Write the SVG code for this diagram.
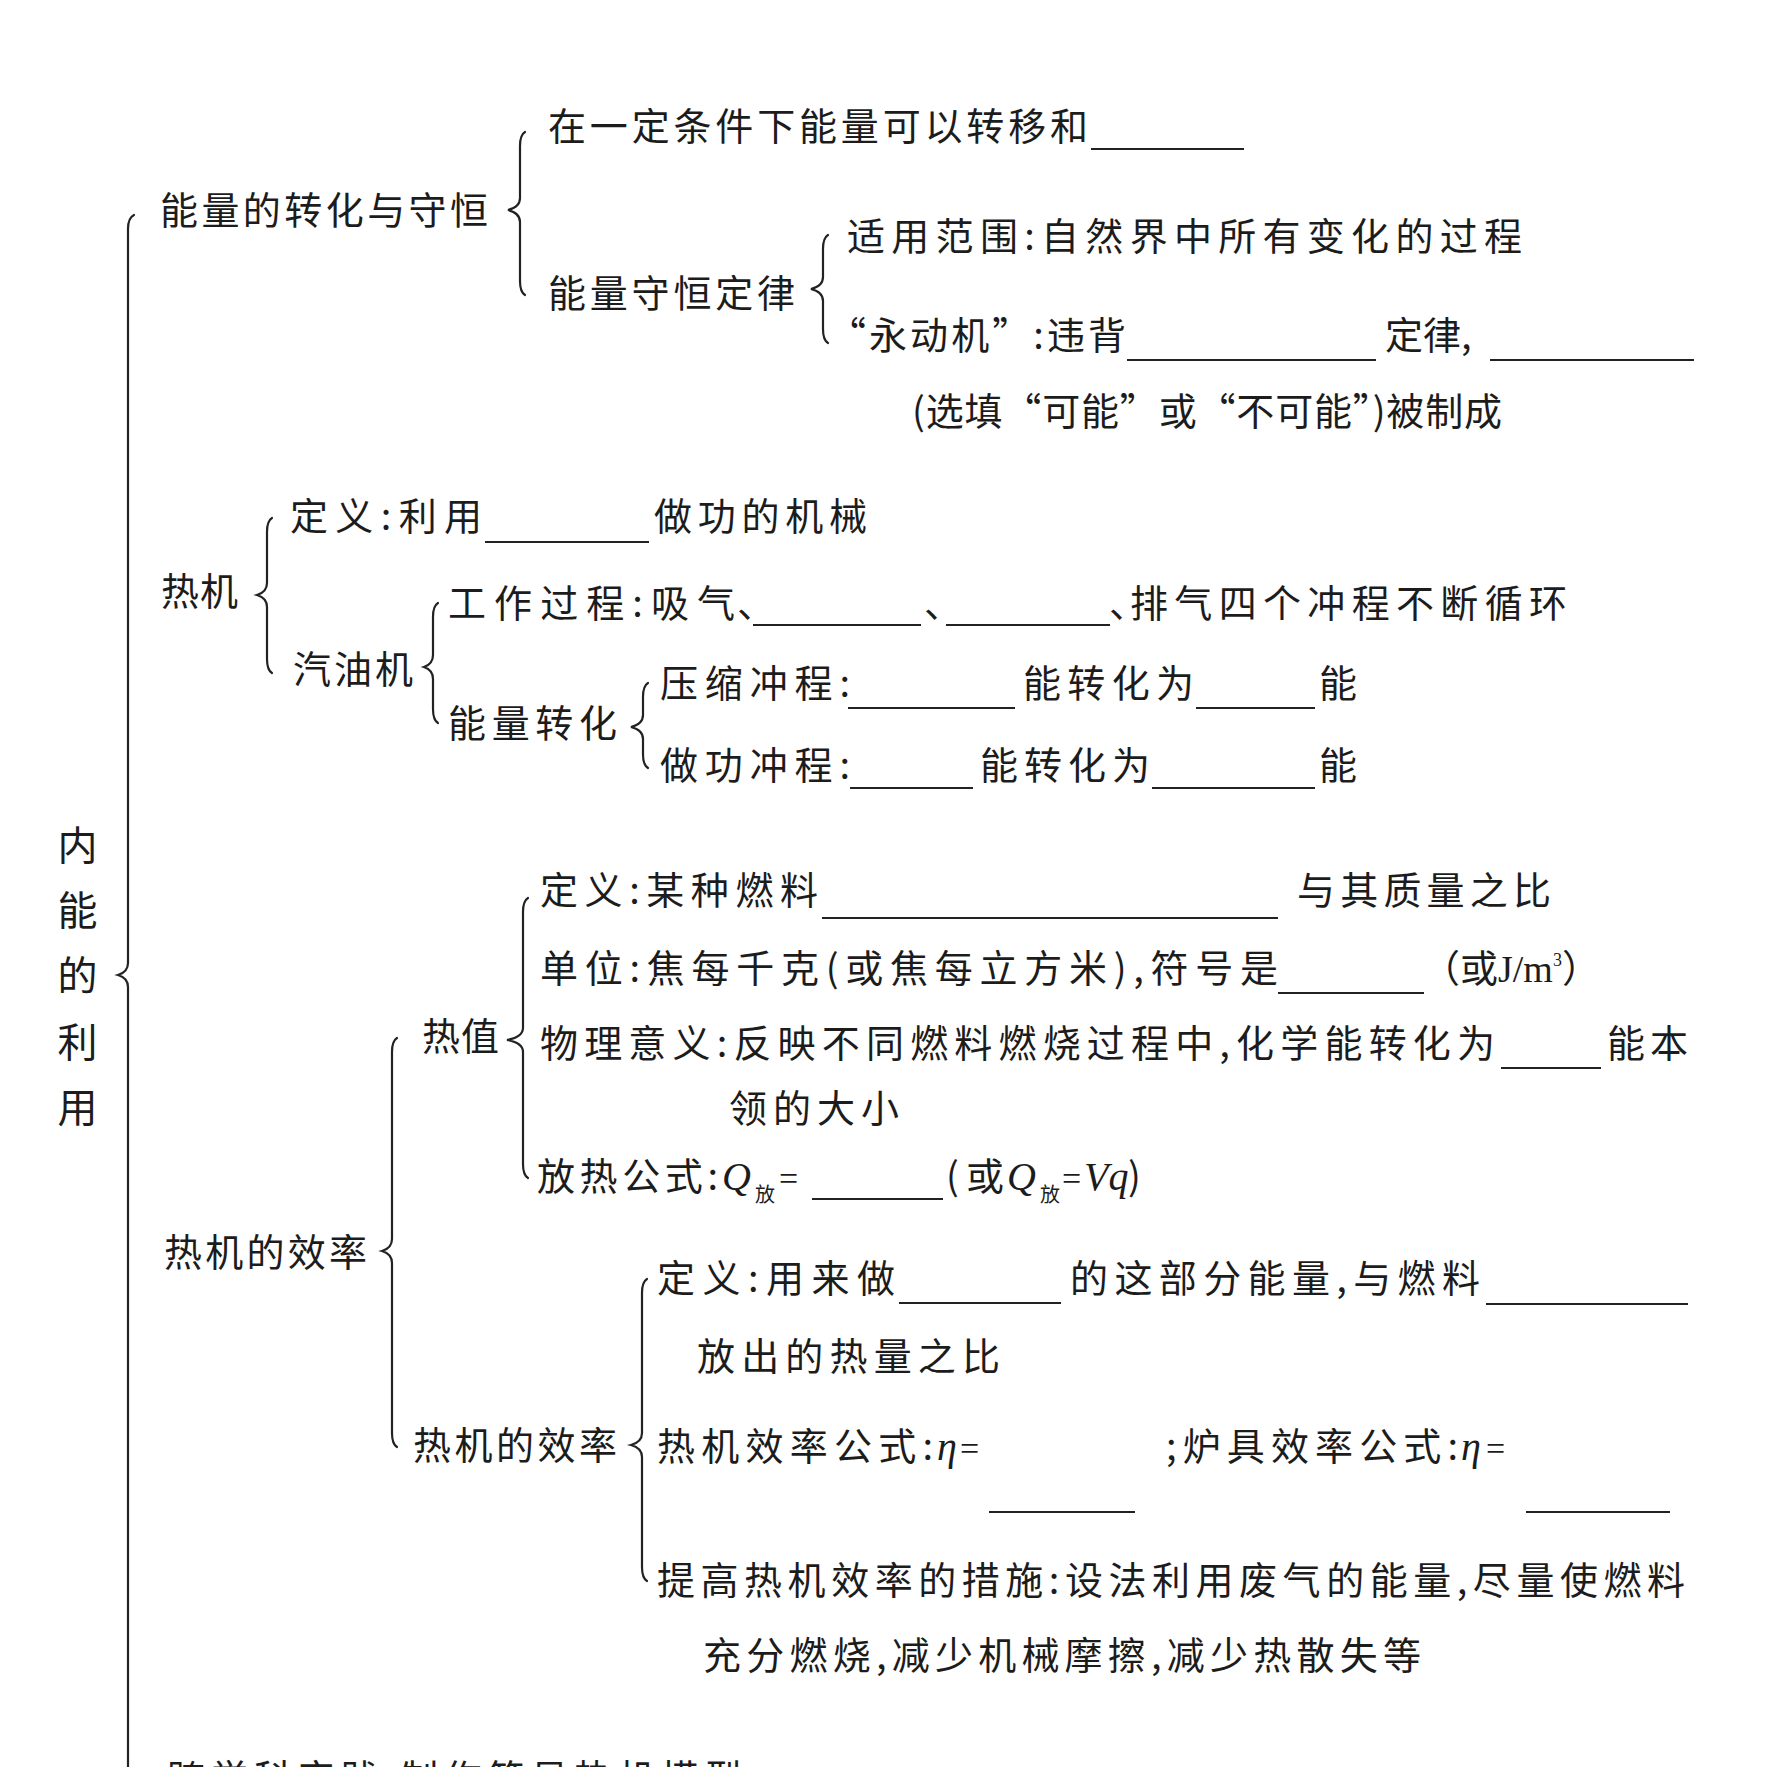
<svg xmlns="http://www.w3.org/2000/svg" width="1773" height="1767" viewBox="0 0 1773 1767">
<style>
.t{font-family:"Noto Sans CJK SC","Noto Sans",sans-serif;font-size:38px;fill:#1c1c1c}
.root{font-size:40px;text-anchor:middle}
.m{font-family:"Liberation Serif",serif;font-style:italic;font-size:40px}
.s{font-family:"Liberation Serif",serif}
.eq{font-family:"Liberation Serif",serif;font-size:34px}
.sub{font-size:20px}
.blank{stroke:#222;stroke-width:2}
.br{fill:none;stroke:#222;stroke-width:2.2;stroke-linecap:round}
</style>
<rect width="1773" height="1767" fill="#ffffff"/>

<g id="connectors">
<path class="br" d="M134,215 Q128,218 128,229 L128,963 Q128,972 118,975 Q128,978 128,987 L128,1800"/>
<path class="br" d="M525,132 Q520,135 520,146 L520,198 Q520,207 508,210 Q520,213 520,222 L520,281 Q520,292 525,295"/>
<path class="br" d="M828,235 Q823,238 823,249 L823,277 Q823,286 811,289 Q823,292 823,301 L823,329 Q823,340 828,343"/>
<path class="br" d="M272,518 Q267,521 267,532 L267,583 Q267,592 257,595 Q267,598 267,607 L267,659 Q267,670 272,673"/>
<path class="br" d="M438,603 Q433,606 433,617 L433,655 Q433,664 424,667 Q433,670 433,679 L433,709 Q433,720 438,723"/>
<path class="br" d="M648,683 Q643,686 643,697 L643,715 Q643,724 631,727 Q643,730 643,739 L643,754 Q643,765 648,768"/>
<path class="br" d="M528,898 Q523,901 523,912 L523,1028 Q523,1037 507,1040 Q523,1043 523,1052 L523,1164 Q523,1175 528,1178"/>
<path class="br" d="M397,1038 Q392,1041 392,1052 L392,1239 Q392,1248 382,1251 Q392,1254 392,1263 L392,1433 Q392,1444 397,1447"/>
<path class="br" d="M647,1279 Q642,1282 642,1293 L642,1433 Q642,1442 631,1445 Q642,1448 642,1457 L642,1567 Q642,1578 647,1581"/>
</g>

<g id="root">
<text class="t root" x="77.5" y="860">内</text>
<text class="t root" x="77.5" y="925">能</text>
<text class="t root" x="77.5" y="990">的</text>
<text class="t root" x="77.5" y="1057">利</text>
<text class="t root" x="77.5" y="1122">用</text>
</g>

<g id="n-energy">
<text class="t" x="160" y="224" textLength="328" lengthAdjust="spacing">能量的转化与守恒</text>
</g>
<g id="n-transfer">
<text class="t" x="548" y="140" textLength="540" lengthAdjust="spacing">在一定条件下能量可以转移和</text>
<line class="blank" x1="1091" y1="149" x2="1244" y2="149"/>
</g>
<g id="n-law">
<text class="t" x="548" y="307" textLength="247" lengthAdjust="spacing">能量守恒定律</text>
</g>
<g id="n-scope">
<text class="t" x="847" y="250" textLength="675" lengthAdjust="spacing">适用范围:自然界中所有变化的过程</text>
</g>
<g id="n-perpetual">
<text class="t" x="828" y="349" textLength="298" lengthAdjust="spacing">“永动机”:违背</text>
<line class="blank" x1="1127" y1="360" x2="1376" y2="360"/>
<text class="t" x="1385" y="349">定律,</text>
<line class="blank" x1="1490" y1="360" x2="1694" y2="360"/>
<text class="t" x="912" y="425" textLength="590" lengthAdjust="spacing">(选填“可能”或“不可能”)被制成</text>
</g>

<g id="n-heatengine">
<text class="t" x="161" y="605" textLength="77" lengthAdjust="spacing">热机</text>
</g>
<g id="n-he-def">
<text class="t" x="290" y="530" textLength="192" lengthAdjust="spacing">定义:利用</text>
<line class="blank" x1="485" y1="542" x2="649" y2="542"/>
<text class="t" x="654" y="530" textLength="213" lengthAdjust="spacing">做功的机械</text>
</g>
<g id="n-gasoline">
<text class="t" x="293" y="683" textLength="120" lengthAdjust="spacing">汽油机</text>
</g>
<g id="n-process">
<text class="t" x="448" y="617" textLength="287" lengthAdjust="spacing">工作过程:吸气</text>
<text class="t" x="737" y="617">、</text>
<line class="blank" x1="753" y1="625" x2="921" y2="625"/>
<text class="t" x="924" y="617">、</text>
<line class="blank" x1="946" y1="625" x2="1110" y2="625"/>
<text class="t" y="617"><tspan x="1109">、</tspan><tspan x="1130" textLength="437" lengthAdjust="spacing">排气四个冲程不断循环</tspan></text>
</g>
<g id="n-conversion">
<text class="t" x="448" y="737" textLength="169" lengthAdjust="spacing">能量转化</text>
</g>
<g id="n-compress">
<text class="t" x="660" y="697" textLength="190" lengthAdjust="spacing">压缩冲程:</text>
<line class="blank" x1="848" y1="708" x2="1015" y2="708"/>
<text class="t" x="1023" y="697" textLength="171" lengthAdjust="spacing">能转化为</text>
<line class="blank" x1="1196" y1="708" x2="1315" y2="708"/>
<text class="t" x="1319" y="697">能</text>
</g>
<g id="n-power">
<text class="t" x="660" y="779" textLength="190" lengthAdjust="spacing">做功冲程:</text>
<line class="blank" x1="850" y1="788" x2="973" y2="788"/>
<text class="t" x="980" y="779" textLength="170" lengthAdjust="spacing">能转化为</text>
<line class="blank" x1="1152" y1="788" x2="1315" y2="788"/>
<text class="t" x="1319" y="779">能</text>
</g>

<g id="n-efficiency">
<text class="t" x="164" y="1266" textLength="203" lengthAdjust="spacing">热机的效率</text>
</g>
<g id="n-heatvalue">
<text class="t" x="422" y="1050" textLength="77" lengthAdjust="spacing">热值</text>
</g>
<g id="n-hv-def">
<text class="t" x="540" y="904" textLength="278" lengthAdjust="spacing">定义:某种燃料</text>
<line class="blank" x1="822" y1="918" x2="1278" y2="918"/>
<text class="t" x="1297" y="904" textLength="254" lengthAdjust="spacing">与其质量之比</text>
</g>
<g id="n-hv-unit">
<text class="t" x="540" y="982" textLength="738" lengthAdjust="spacing">单位:焦每千克(或焦每立方米),符号是</text>
<line class="blank" x1="1278" y1="993" x2="1424" y2="993"/>
<text class="t" x="1422" y="982">（或<tspan class="s">J/m</tspan><tspan class="s" style="font-size:18px" dy="-16">3</tspan><tspan dy="16">）</tspan></text>
</g>
<g id="n-hv-meaning">
<text class="t" x="540" y="1057" textLength="955" lengthAdjust="spacing">物理意义:反映不同燃料燃烧过程中,化学能转化为</text>
<line class="blank" x1="1501" y1="1068" x2="1601" y2="1068"/>
<text class="t" x="1607" y="1057" textLength="81" lengthAdjust="spacing">能本</text>
<text class="t" x="729" y="1122" textLength="170" lengthAdjust="spacing">领的大小</text>
</g>
<g id="n-hv-formula">
<text class="t" x="537" y="1190" textLength="181" lengthAdjust="spacing">放热公式:</text>
<text class="t m" x="722" y="1190">Q</text>
<text class="t sub" x="755" y="1202">放</text>
<text class="t eq" x="779" y="1190">=</text>
<line class="blank" x1="812" y1="1199" x2="943" y2="1199"/>
<text class="t" x="946" y="1190">(</text>
<text class="t" x="966" y="1190">或</text>
<text class="t m" x="1007" y="1190">Q</text>
<text class="t sub" x="1040" y="1202">放</text>
<text class="t eq" x="1062" y="1190">=</text>
<text class="t m" x="1084" y="1190">Vq</text>
<text class="t" x="1128" y="1190">)</text>
</g>

<g id="n-eff2">
<text class="t" x="413" y="1459" textLength="204" lengthAdjust="spacing">热机的效率</text>
</g>
<g id="n-eff-def">
<text class="t" x="657" y="1292" textLength="238" lengthAdjust="spacing">定义:用来做</text>
<line class="blank" x1="899" y1="1303" x2="1061" y2="1303"/>
<text class="t" x="1070" y="1292" textLength="410" lengthAdjust="spacing">的这部分能量,与燃料</text>
<line class="blank" x1="1486" y1="1304" x2="1688" y2="1304"/>
<text class="t" x="697" y="1370" textLength="303" lengthAdjust="spacing">放出的热量之比</text>
</g>
<g id="n-eff-formula">
<text class="t" x="657" y="1460" textLength="276" lengthAdjust="spacing">热机效率公式:</text>
<text class="t m" x="937" y="1460">η</text>
<text class="t eq" x="960" y="1460">=</text>
<line class="blank" x1="989" y1="1512" x2="1135" y2="1512"/>
<text class="t" x="1166" y="1460" textLength="292" lengthAdjust="spacing">;炉具效率公式:</text>
<text class="t m" x="1461" y="1460">η</text>
<text class="t eq" x="1486" y="1460">=</text>
<line class="blank" x1="1526" y1="1512" x2="1670" y2="1512"/>
</g>
<g id="n-eff-improve">
<text class="t" x="657" y="1594" textLength="1028" lengthAdjust="spacing">提高热机效率的措施:设法利用废气的能量,尽量使燃料</text>
<text class="t" x="703" y="1669" textLength="718" lengthAdjust="spacing">充分燃烧,减少机械摩擦,减少热散失等</text>
</g>

<g id="n-practice">
<text class="t" x="167" y="1792" textLength="575" lengthAdjust="spacing">跨学科实践:制作简易热机模型</text>
</g>
</svg>
